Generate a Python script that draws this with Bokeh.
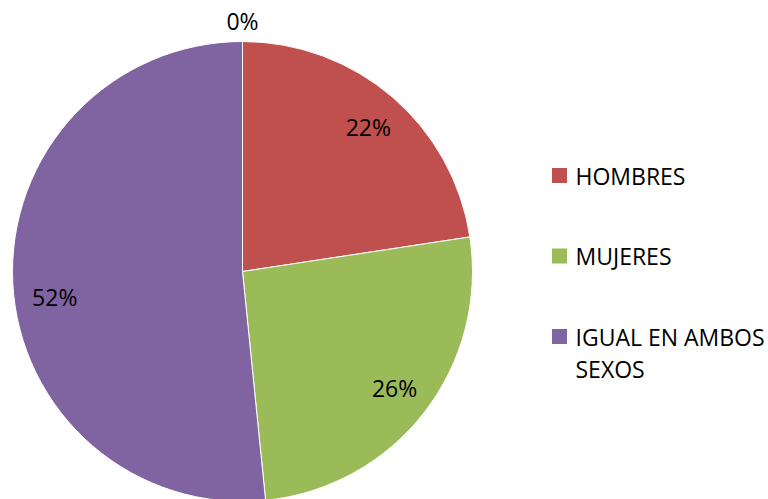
import math
from bokeh.plotting import figure
from bokeh.models import Range1d, ColumnDataSource
from bokeh.core.properties import value
from bokeh.embed import file_html
from bokeh.resources import INLINE

# ---- data ----
categories = ["", "HOMBRES", "MUJERES", "IGUAL EN AMBOS SEXOS"]
values = [0.0, 22.6, 25.8, 51.6]
labels = ["0%", "22%", "26%", "52%"]
colors = ["#4F81BD", "#C0504D", "#9BBB59", "#8064A2"]
legend_lines = [[], ["HOMBRES"], ["MUJERES"], ["IGUAL EN AMBOS", "SEXOS"]]

# ---- layout (page px -> data: x same, y = 499 - page_y) ----
W, H = 768, 499
cx, cy = 242, 499 - 271
R = 230
FONT = value("Open Sans")
FS = "23px"
label_nudge = [(0, 0), (2, 0), (2, 0), (2, -16)]   # small placement tweaks (px)

p = figure(width=W, height=H, output_backend="svg", toolbar_location=None,
           x_range=Range1d(0, 768), y_range=Range1d(0, 499),
           x_axis_type=None, y_axis_type=None, min_border=0)
p.outline_line_color = None
p.grid.visible = False

total = sum(values)
starts, ends, cols, lx, ly, ltxt = [], [], [], [], [], []
cum = 0.0
for v, c, lab, (nx, ny) in zip(values, colors, labels, label_nudge):
    a0 = math.pi / 2 - 2 * math.pi * cum / total
    a1 = math.pi / 2 - 2 * math.pi * (cum + v) / total
    mid = (a0 + a1) / 2
    if v > 0:
        starts.append(a0); ends.append(a1); cols.append(c)
        rl = 190
    else:
        rl = 251
    lx.append(cx + rl * math.cos(mid) + nx)
    ly.append(cy + rl * math.sin(mid) + ny)
    ltxt.append(lab)
    cum += v

src = ColumnDataSource(dict(x=[cx] * len(starts), y=[cy] * len(starts),
                            start=starts, end=ends, color=cols))
p.wedge(x="x", y="y", radius=R, start_angle="start", end_angle="end",
        direction="clock", fill_color="color", line_color="white",
        line_width=1, source=src)

p.text(x=lx, y=ly, text=ltxt, text_font=FONT, text_font_size=FS,
       text_color="black", text_align="center", text_baseline="middle")

# ---- legend ----
leg_y0 = 499 - 175
step = 80.5
sq_x, sq_y, sq_c, tx, ty, tt = [], [], [], [], [], []
k = 0
for name, c, lines in zip(categories, colors, legend_lines):
    if not name:
        continue
    yy = leg_y0 - k * step
    sq_x.append(559); sq_y.append(yy); sq_c.append(c)
    for j, ln in enumerate(lines):
        tx.append(575); ty.append(yy - 32 * j); tt.append(ln)
    k += 1

p.scatter(x=sq_x, y=sq_y, marker="square", size=15, fill_color=sq_c,
          line_color=None)
p.text(x=tx, y=ty, text=tt, text_font=FONT, text_font_size=FS,
       text_color="black", text_align="left", text_baseline="middle")

open("out.html", "w").write(file_html(p, INLINE))
